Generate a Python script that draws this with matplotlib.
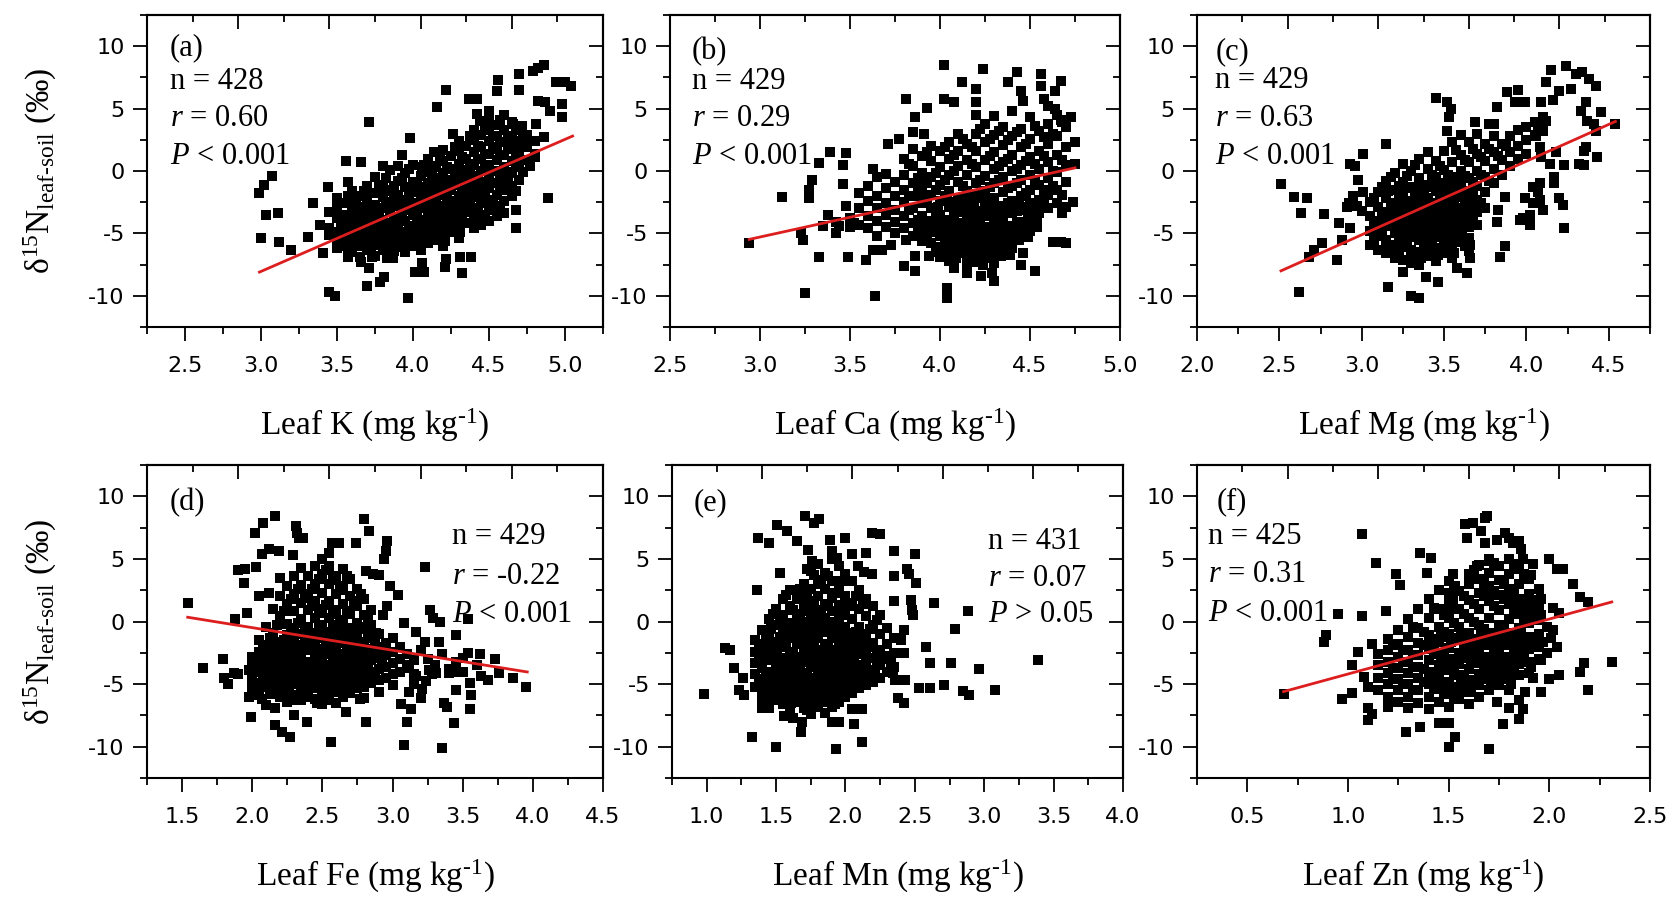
import matplotlib
matplotlib.use("Agg")
import matplotlib.pyplot as plt
from matplotlib.ticker import MultipleLocator, FixedLocator, NullFormatter

plt.rcParams.update({
    "font.family": ["Liberation Serif", "DejaVu Serif"],
    "mathtext.fontset": "custom",
    "mathtext.rm": "Liberation Serif",
    "mathtext.it": "Liberation Serif:italic",
    "mathtext.bf": "Liberation Serif:bold",
    "axes.unicode_minus": False,
})

# ---------------- data ----------------
# (a) Leaf K
K_pts = [(2.99,-1.8),(3.02,-1.15),(3.07,-0.4),(3.03,-3.55),(3.11,-3.36),(3.0,-5.4),(3.12,-5.67),(3.2,-6.33),
         (3.44,-1.3),(3.34,-2.6),(3.31,-5.3),(3.39,-4.35),(3.41,-6.6),(3.45,-9.73),(3.49,-10.0),(3.56,0.84),
         (3.66,0.7),(3.71,3.9),(3.57,-0.9),(3.51,-2.6),(3.7,-9.25),(3.78,-8.86),(3.81,-8.46),(3.97,-10.2),
         (3.98,2.65),(3.93,1.3),(3.8,0.44),(3.9,0.44),(4.22,6.5),(4.16,5.1),(4.14,1.5),(4.06,0.3),(4.13,0.3),
         (4.26,3.0),(4.37,5.75),(4.42,5.8),(4.56,7.3),(4.55,6.4),(4.7,7.75),(4.7,6.5),(4.79,8.0),(4.82,8.27),
         (4.86,8.5),(4.94,7.15),(5.0,7.1),(5.04,6.8),(4.98,5.35),(4.98,4.35),(4.82,5.6),(4.87,5.5),(4.9,4.8),
         (4.81,3.75),(4.86,2.7),(4.8,1.1),(4.77,0.44),(4.89,-2.2),(4.68,-3.15),(4.68,-4.6),(4.31,-6.87),
         (4.32,-8.2),(4.38,-6.87),(4.21,-7.7),(4.22,-7.05),(4.06,-7.4),(4.07,-8.06),(4.01,-8.06),(3.87,-7.0),
         (3.83,-7.0),(3.66,-7.26),(3.71,-7.8),(3.73,-6.87),(3.57,-6.87),(3.53,-5.93),(4.42,4.55),(4.44,4.0),
         (4.5,4.8),(4.48,3.5),(4.57,4.0),(4.66,3.75),(4.72,3.6),(4.63,2.15),(4.7,1.6),(4.72,2.15),(4.75,2.7)]
K_cloud = {
    3.45: [-3.3, -4.6, -5.1],
    3.50: [-2.2, -3.0, -3.8, -4.9, -5.6, -6.2],
    3.55: [-2.6, -3.5, -4.4, -5.2, -6.0],
    3.60: [-1.6, -2.4, -3.1, -4.0, -4.8, -5.5, -6.5],
    3.65: [-2.0, -2.9, -3.7, -4.5, -5.2, -6.0, -6.9],
    3.70: [-1.2, -2.4, -3.3, -4.1, -4.9, -5.6, -6.3],
    3.75: [-0.5, -1.8, -2.7, -3.5, -4.3, -5.1, -5.9, -6.8],
    3.80: [-1.1, -2.1, -3.0, -3.9, -4.7, -5.5, -6.3],
    3.85: [0.1, -1.5, -2.5, -3.3, -4.2, -5.0, -5.8, -6.6],
    3.90: [-0.8, -1.9, -2.8, -3.7, -4.5, -5.3, -6.1],
    3.95: [-0.2, -1.3, -2.3, -3.1, -4.0, -4.9, -5.7, -6.5],
    4.00: [0.5, -0.9, -1.7, -2.6, -3.5, -4.4, -5.2, -6.0],
    4.05: [-0.4, -1.3, -2.1, -3.0, -3.9, -4.7, -5.5, -6.3],
    4.10: [1.0, -0.1, -1.0, -1.8, -2.6, -3.4, -4.2, -5.0, -5.8],
    4.15: [0.4, -0.6, -1.4, -2.3, -3.1, -3.9, -4.7, -5.5],
    4.20: [1.7, 0.8, -0.2, -1.0, -1.9, -2.8, -3.6, -4.4, -5.2, -6.0],
    4.25: [1.2, 0.2, -0.7, -1.5, -2.4, -3.2, -4.1, -4.9],
    4.30: [2.4, 1.6, 0.6, -0.3, -1.1, -2.0, -2.9, -3.7, -4.5, -5.4],
    4.35: [2.0, 1.0, 0.1, -0.8, -1.6, -2.5, -3.3, -4.2],
    4.40: [3.3, 2.5, 1.5, 0.5, -0.4, -1.2, -2.1, -3.0, -3.8, -4.6],
    4.45: [2.9, 1.9, 1.0, 0.0, -0.9, -1.8, -2.6, -3.5, -4.3],
    4.50: [4.0, 3.3, 2.4, 1.4, 0.5, -0.5, -1.4, -2.3, -3.1, -4.0],
    4.55: [3.7, 2.8, 1.8, 0.9, 0.0, -1.0, -1.9, -2.8, -3.6],
    4.60: [4.5, 3.3, 2.3, 1.3, 0.3, -0.6, -1.5, -2.4, -3.4],
    4.65: [3.9, 2.8, 1.8, 0.8, -0.2, -1.2, -2.0],
    4.70: [3.4, 2.4, 1.3, 0.4, -0.7],
    4.75: [2.9, 1.9, 0.9],
    4.80: [2.4, 1.4],
}
K_mid = {
    3.525: [-2.6, -4.3, -5.2],
    3.575: [-2.0, -3.9, -4.8, -6.3],
    3.625: [-2.7, -3.5, -5.1, -5.9],
    3.675: [-1.6, -3.3, -4.1, -5.6],
    3.725: [-1.8, -2.8, -4.5, -5.3, -6.0],
    3.775: [-1.2, -3.1, -3.9, -5.5],
    3.825: [-0.6, -2.6, -4.3, -5.1],
    3.875: [-1.2, -2.1, -3.8, -4.6, -6.4],
    3.925: [-0.6, -2.5, -3.4, -5.1],
    3.975: [0.2, -1.8, -2.7, -4.5, -5.3],
    4.025: [-1.1, -3.1, -3.9, -5.7],
    4.075: [0.5, -1.4, -2.3, -4.1, -5.0],
    4.125: [-0.4, -2.2, -3.0, -4.6],
    4.175: [1.1, -0.9, -1.8, -3.5, -4.3],
    4.225: [0.3, -1.5, -2.3, -4.0, -4.8],
    4.275: [1.9, -0.2, -1.1, -2.8, -3.6],
    4.325: [1.1, 0.1, -1.6, -2.4, -4.1],
    4.375: [2.8, 0.6, -0.3, -2.0, -2.9],
    4.425: [2.0, 1.0, -0.8, -1.7, -3.4],
    4.475: [3.6, 1.4, 0.5, -1.3, -2.1, -3.8],
    4.525: [2.8, 1.9, 0.0, -1.0, -2.7],
    4.575: [4.1, 2.3, 1.3, -0.5, -1.4, -3.1],
    4.625: [2.8, 1.8, -0.1, -1.0],
    4.675: [3.3, 1.3, 0.3, -1.6],
    4.725: [2.9, 0.9, -0.1],
}
K_core = {
    3.61: [-2.0, -4.4],
    3.71: [-2.8, -5.2],
    3.81: [-1.6, -4.3, -5.9],
    3.91: [-2.3, -4.9],
    4.01: [-1.3, -3.0, -5.6],
    4.11: [-2.2, -4.6],
    4.21: [-1.4, -3.2, -5.6],
    4.31: [-0.7, -2.5, -4.9],
    4.41: [-1.6, -3.4],
    4.51: [0.0, -2.7],
}
K_fit_x = [2.99, 5.05]
K_fit_y = [-8.1, 2.8]
K_stats = ["n = 428", "$r$ = 0.60", "$P$ < 0.001"]

# (b) Leaf Ca
Ca_pts = [(2.94,-5.8),(3.12,-2.05),(3.25,-9.8),(3.23,-4.95),(3.24,-5.55),(3.27,-1.55),(3.27,-2.2),(3.29,-0.7),
          (3.33,0.65),(3.39,1.5),(3.48,1.45),(3.46,0.5),(3.46,-1.05),(3.33,-6.9),(3.49,-6.9),(3.59,-7.1),
          (3.64,-10.05),(3.42,-4.95),(3.44,-4.4),(3.63,0.2),(3.7,-0.25),(3.71,2.2),(3.77,2.55),(3.81,5.8),
          (3.86,4.3),(3.85,3.1),(3.93,5.05),(3.91,3.0),(4.02,8.5),(4.02,5.75),(4.08,5.55),(4.12,7.1),(4.2,6.55),
          (4.24,8.2),(4.2,5.5),(4.38,7.1),(4.43,7.95),(4.45,6.4),(4.46,5.6),(4.56,7.75),(4.56,6.8),(4.67,7.2),
          (4.64,6.4),(4.58,5.75),(4.73,4.35),(4.64,5.0),(4.67,4.1),(4.74,-2.45),(4.7,-2.85),(4.68,-3.4),
          (4.67,-5.7),(4.7,-5.75),(4.63,-5.7),(4.53,-8.05),(4.45,-7.5),(4.46,-6.6),(4.54,-4.45),(4.49,-3.95),
          (4.3,-8.85),(4.29,-8.15),(4.23,-8.45),(4.15,-8.2),(4.08,-7.8),(4.04,-9.4),(4.04,-10.2),(3.86,-8.05),
          (3.8,-7.65),(3.81,-5.55),(3.86,-6.85),(3.94,-6.8),(3.73,-5.95),(3.68,-6.3),(3.63,-6.3),(3.52,-4.2),
          (3.5,-4.5),(3.38,-3.5),(3.42,-4.1),(3.5,-3.8),(3.48,-2.8),(3.35,-4.4)]
Ca_cloud = {
    3.55: [-1.8, -3.0, -4.3],
    3.60: [-1.2, -2.4, -3.6, -4.6],
    3.65: [-0.5, -2.0, -3.0, -4.0, -5.2],
    3.70: [-1.4, -2.6, -3.5, -4.5],
    3.75: [-0.9, -2.0, -3.1, -4.1, -5.0],
    3.80: [1.0, -0.3, -1.5, -2.5, -3.6, -4.6],
    3.85: [1.8, 0.4, -1.0, -2.0, -3.0, -4.2, -5.2],
    3.90: [1.2, -0.2, -1.4, -2.6, -3.6, -4.6, -5.6],
    3.95: [2.0, 0.8, -0.5, -1.9, -3.0, -4.0, -4.9, -5.8],
    4.00: [1.6, 0.3, -1.1, -2.4, -3.5, -4.4, -5.2, -6.1, -6.9],
    4.05: [2.3, 1.0, -0.3, -1.6, -2.9, -3.9, -4.7, -5.5, -6.4, -7.2],
    4.10: [3.0, 1.6, 0.4, -0.9, -2.2, -3.3, -4.2, -5.0, -5.8, -6.6],
    4.15: [2.2, 0.9, -0.3, -1.6, -2.7, -3.7, -4.5, -5.3, -6.1, -6.9, -7.4],
    4.20: [4.5, 3.0, 1.6, 0.3, -1.0, -2.2, -3.2, -4.1, -4.9, -5.7, -6.5, -7.3],
    4.25: [3.8, 2.3, 0.9, -0.4, -1.6, -2.7, -3.6, -4.5, -5.3, -6.1, -6.9],
    4.30: [4.4, 2.9, 1.5, 0.2, -1.0, -2.2, -3.2, -4.1, -5.0, -5.8, -6.6, -7.4],
    4.35: [3.5, 2.1, 0.7, -0.5, -1.7, -2.8, -3.8, -4.7, -5.6, -6.4],
    4.40: [4.8, 2.8, 1.3, 0.0, -1.2, -2.4, -3.4, -4.4, -5.4, -6.2],
    4.45: [3.4, 1.9, 0.5, -0.7, -2.0, -3.1, -4.1, -5.2],
    4.50: [4.3, 2.6, 1.1, -0.3, -1.5, -2.6, -3.7, -4.8],
    4.55: [3.2, 1.6, 0.2, -1.1, -2.3, -3.4],
    4.60: [5.2, 3.8, 2.2, 0.7, -0.6, -1.9, -3.0],
    4.65: [4.5, 2.8, 1.3, -0.1, -1.5, -2.6],
    4.70: [3.5, 1.9, 0.5, -0.9],
    4.75: [2.3, 0.6],
}
Ca_mid = {
    3.825: [0.6, -2.0, -3.1],
    3.875: [-0.6, -1.8, -3.9, -4.9],
    3.925: [1.5, -1.0, -2.2, -4.3, -5.2],
    3.975: [-0.2, -1.5, -3.7, -4.6, -6.4],
    4.025: [1.9, -0.7, -2.0, -4.1, -5.0, -5.8, -6.7],
    4.075: [1.3, 0.0, -2.5, -3.6, -4.5, -6.1, -6.9],
    4.125: [2.6, -1.2, -2.4, -4.4, -5.2, -6.0],
    4.175: [1.9, 0.6, -1.9, -3.0, -3.9, -5.5, -6.3, -7.1],
    4.225: [3.4, -0.7, -1.9, -3.9, -4.7, -5.5, -7.0],
    4.275: [2.6, 1.2, -1.3, -2.4, -3.4, -5.1, -5.9, -6.7],
    4.325: [3.2, 0.4, -0.7, -3.0, -3.9, -4.8, -6.4],
    4.375: [2.5, 1.0, -1.4, -2.6, -4.5, -5.5, -6.3],
    4.425: [3.1, 0.2, -1.0, -3.2, -4.2, -5.1],
    4.475: [2.2, 0.8, -1.8, -2.9, -4.9],
    4.525: [3.6, 0.6, -0.7, -3.0, -4.1],
    4.575: [2.7, 1.2, -1.5, -2.7],
    4.625: [3.0, 0.0, -1.2],
    4.675: [3.9, 0.9, -1.9],
}
Ca_core = {
    3.99: [-2.9, -4.8, -6.5],
    4.04: [-2.3, -4.3, -6.0, -6.8],
    4.09: [-3.0, -4.6, -5.4, -7.0],
    4.14: [-2.1, -3.2, -5.6, -6.4],
    4.19: [-2.7, -4.5, -6.9],
    4.24: [-3.2, -4.9, -5.8, -6.6, -7.5],
    4.29: [-2.8, -4.5, -6.2, -7.0],
    4.34: [-3.4, -5.2, -6.0, -6.8],
    4.39: [-3.0, -4.9, -5.8, -6.7],
    4.44: [-2.6, -4.6, -5.5],
    4.49: [-3.3, -4.3, -5.3],
    4.54: [-2.9, -3.9],
}
Ca_fit_x = [2.94, 4.75]
Ca_fit_y = [-5.48, 0.25]
Ca_stats = ["n = 429", "$r$ = 0.29", "$P$ < 0.001"]

# (c) Leaf Mg
Mg_pts = [(2.51,-1.08),(2.59,-2.1),(2.67,-2.2),(2.63,-3.35),(2.62,-9.73),(2.77,-3.45),(2.86,-4.2),(2.93,-4.6),
          (2.85,-7.1),(2.88,-5.5),(2.76,-5.8),(2.71,-6.3),(2.68,-6.9),(2.93,0.57),(2.96,0.4),(3.01,1.4),
          (2.98,-0.7),(3.01,-1.7),(3.15,2.2),(2.92,-2.6),(2.91,-2.9),(3.16,-9.3),(3.3,-10.0),(3.35,-10.2),
          (3.25,-8.06),(3.39,-8.46),(3.46,-8.86),(3.64,-8.2),(3.58,-7.8),(3.66,-7.0),(3.45,5.83),(3.52,5.56),
          (3.54,4.95),(3.53,4.3),(3.52,3.2),(3.69,3.9),(3.77,3.8),(3.8,3.8),(3.82,5.1),(3.88,6.35),(3.95,6.5),
          (3.93,5.5),(3.99,5.56),(4.09,5.5),(4.12,7.1),(4.15,8.1),(4.24,8.4),(4.3,7.75),(4.34,7.9),(4.38,7.35),
          (4.42,6.8),(4.27,6.6),(4.2,6.4),(4.16,5.7),(4.36,5.5),(4.45,4.75),(4.33,4.8),(4.54,3.75),(4.41,3.75),
          (4.37,4.0),(4.42,3.2),(4.36,1.9),(4.35,1.6),(4.43,1.1),(4.32,0.6),(4.35,0.45),(4.23,0.45),(4.14,0.56),
          (4.17,-0.5),(4.17,-1.0),(4.2,-2.2),(4.22,-2.75),(4.23,-4.6),(4.08,-1.0),(4.04,-1.3),(4.07,-1.7),
          (4.08,-2.35),(4.04,-2.6),(4.1,-3.15),(4.02,-3.55),(4.02,-4.35),(3.99,-2.2),(3.98,-3.8),(3.96,-3.9),
          (3.84,-6.87),(3.87,-6.0),(3.82,-4.1),(3.83,-3.15),(3.87,-2.1),(4.08,1.9),(4.09,1.1),(4.18,1.5),
          (4.06,2.8),(4.07,3.3),(4.12,4.0),(4.1,3.75),(2.97,-2.8),(3.0,-3.2),(2.95,-2.0)]
Mg_cloud = {
    3.05: [-2.5, -3.6, -4.8, -5.9],
    3.10: [-1.7, -2.9, -4.0, -5.2, -6.3],
    3.15: [-0.8, -2.2, -3.3, -4.4, -5.5, -6.6],
    3.20: [-0.2, -1.5, -2.6, -3.7, -4.8, -5.9, -7.0],
    3.25: [0.6, -0.9, -2.0, -3.1, -4.1, -5.1, -6.1, -7.1],
    3.30: [0.0, -1.3, -2.4, -3.4, -4.4, -5.3, -6.3, -7.4],
    3.35: [1.0, -0.6, -1.8, -2.8, -3.7, -4.6, -5.5, -6.5, -7.5],
    3.40: [1.5, 0.2, -1.1, -2.2, -3.1, -4.0, -4.9, -5.8, -6.8],
    3.45: [0.8, -0.5, -1.6, -2.6, -3.5, -4.4, -5.3, -6.2, -7.2],
    3.50: [1.6, 0.1, -1.0, -2.0, -2.9, -3.8, -4.7, -5.6, -6.6],
    3.55: [2.3, 0.7, -0.5, -1.5, -2.5, -3.4, -4.3, -5.2, -6.1, -7.0],
    3.60: [2.9, 1.3, 0.0, -1.1, -2.1, -3.0, -3.9, -4.8, -5.7],
    3.65: [2.3, 0.7, -0.6, -1.7, -2.7, -3.6, -4.5, -5.4, -6.4],
    3.70: [3.0, 1.4, 0.0, -1.2, -2.3, -3.3, -4.3],
    3.75: [2.2, 0.8, -0.5, -1.7, -3.0],
    3.80: [2.8, 1.5, 0.2, -1.0],
    3.85: [2.2, 0.9, -0.3],
    3.90: [2.8, 1.5, 0.4],
    3.95: [3.3, 2.0, 1.0],
    4.00: [3.5, 2.5, 1.4],
    4.05: [3.9, 2.9],
    4.10: [4.3, 3.2],
}
Mg_mid = {
    3.075: [-2.2, -4.4, -5.5],
    3.125: [-1.3, -3.6, -4.7],
    3.175: [-0.5, -2.9, -4.0, -6.2],
    3.225: [-1.2, -2.3, -4.4, -5.4, -6.5],
    3.275: [-0.4, -2.7, -3.7, -4.6, -5.6],
    3.325: [0.5, -2.1, -3.1, -4.0, -4.9, -6.9],
    3.375: [-1.4, -2.5, -3.4, -4.3, -5.2, -6.2],
    3.425: [-0.3, -1.3, -3.3, -4.2, -5.1, -6.0],
    3.475: [0.4, -1.8, -2.8, -3.7, -4.6, -6.4],
    3.525: [-0.3, -1.3, -3.2, -4.1, -5.0, -5.9],
    3.575: [1.7, -0.8, -1.8, -3.6, -4.5, -5.4],
    3.625: [0.9, -0.4, -2.4, -3.3, -4.2, -6.0],
    3.675: [1.8, -0.9, -2.0, -3.0, -4.0],
    3.725: [1.1, -0.3, -2.6],
    3.775: [1.8, -0.8],
    3.825: [1.2],
    3.875: [2.0],
}
Mg_core = {
    3.16: [-1.6, -3.7, -5.9],
    3.21: [-2.9, -5.0, -6.5],
    3.26: [-1.4, -3.6, -5.7],
    3.31: [-2.9, -4.8, -6.8],
    3.36: [-1.2, -3.3, -5.0, -7.0],
    3.41: [-2.6, -4.5, -6.4],
    3.46: [-1.2, -3.0, -4.9, -6.7],
    3.51: [-2.4, -4.3, -6.1],
    3.56: [-1.0, -2.9, -4.8, -6.6],
    3.61: [-1.6, -3.4, -5.3],
    3.66: [-2.2, -4.1, -5.9],
}
Mg_fit_x = [2.51, 4.54]
Mg_fit_y = [-8.0, 3.97]
Mg_stats = ["n = 429", "$r$ = 0.63", "$P$ < 0.001"]

# (d) Leaf Fe
Fe_pts = [(1.54,1.5),(1.65,-3.7),(1.79,-3.0),(1.8,-4.5),(1.83,-5.0),(1.87,-4.1),(1.9,-4.2),(1.98,-3.9),
          (1.88,0.2),(1.96,0.65),(1.9,4.1),(1.95,4.2),(1.94,3.1),(2.03,4.35),(2.02,7.1),(2.08,7.9),(2.16,8.4),
          (2.07,5.4),(2.12,5.8),(2.19,5.6),(2.29,5.35),(2.31,7.6),(2.32,7.1),(2.33,6.7),(2.36,6.7),(2.05,2.0),
          (2.12,2.25),(1.98,-6.0),(2.02,-5.9),(2.07,-6.2),(2.1,-6.7),(1.99,-7.6),(2.16,-6.9),(2.16,-8.3),
          (2.21,-8.8),(2.27,-9.2),(2.3,-7.5),(2.39,-8.0),(2.56,-9.65),(2.57,6.25),(2.62,6.3),(2.74,6.3),
          (2.8,8.15),(2.83,7.2),(2.96,6.45),(2.95,5.65),(2.94,5.0),(2.81,4.0),(2.86,3.8),(2.9,3.7),(2.98,2.8),
          (3.04,2.15),(2.96,1.2),(2.93,0.5),(3.23,4.35),(2.88,-0.9),(3.08,-0.15),(3.17,-0.8),(3.27,0.9),
          (3.29,0.3),(3.34,0.0),(3.23,-1.6),(3.33,-1.6),(3.45,-1.05),(3.54,0.2),(3.54,-2.5),(3.73,-3.0),
          (3.76,-4.1),(3.86,-4.5),(3.95,-5.25),(3.68,-4.65),(3.63,-4.35),(3.55,-4.9),(3.45,-5.5),(3.56,-5.85),
          (3.55,-6.95),(3.44,-8.1),(3.37,-6.5),(3.39,-6.85),(3.35,-10.1),(3.08,-9.9),(3.1,-8.0),(3.13,-7.0),
          (3.06,-6.6),(2.81,-8.0),(2.77,-6.2),(2.67,-7.2),(3.26,-3.9),(3.31,-4.15),(3.4,-4.15),(3.45,-4.0),
          (3.24,-4.75),(3.21,-5.4),(3.17,-4.35),(3.12,-3.7),(3.2,-2.3),(3.25,-3.0),(3.3,-3.5),(3.35,-2.6),
          (3.4,-3.8),(3.28,-4.2),(3.45,-3.2),(3.5,-4.0),(3.5,-2.9),(3.6,-3.5),(3.62,-2.6),(3.12,-5.6),
          (3.2,-6.1),(3.15,-5.0)]
Fe_cloud = {
    2.00: [-2.8, -3.6, -4.5, -5.3],
    2.05: [-1.5, -2.4, -3.2, -4.0, -4.9, -5.7],
    2.10: [-0.4, -1.9, -2.8, -3.6, -4.4, -5.2],
    2.15: [1.0, -0.9, -2.2, -3.1, -3.9, -4.7, -5.5],
    2.20: [3.5, 2.0, 0.4, -1.6, -2.6, -3.4, -4.3, -5.1, -6.0],
    2.25: [2.8, 1.4, -0.2, -1.1, -2.0, -2.9, -3.8, -4.6, -5.5, -6.4],
    2.30: [3.6, 2.2, 0.8, -0.5, -1.5, -2.4, -3.3, -4.2, -5.0, -5.9],
    2.35: [4.3, 2.9, 1.5, 0.2, -1.0, -1.9, -2.8, -3.7, -4.5, -5.4, -6.3],
    2.40: [3.6, 2.2, 0.9, -0.4, -1.4, -2.3, -3.2, -4.0, -4.9, -5.8],
    2.45: [4.4, 3.0, 1.6, 0.3, -0.9, -1.8, -2.7, -3.6, -4.4, -5.3, -6.2],
    2.50: [5.0, 3.8, 2.3, 1.0, -0.3, -1.3, -2.2, -3.1, -4.0, -4.8, -5.7, -6.6],
    2.55: [5.5, 4.4, 3.0, 1.6, 0.3, -0.8, -1.7, -2.6, -3.5, -4.3, -5.2, -6.1],
    2.60: [3.6, 2.2, 0.9, -0.3, -1.2, -2.1, -3.0, -3.9, -4.7, -5.6, -6.5],
    2.65: [4.2, 2.8, 1.4, 0.1, -0.8, -1.7, -2.6, -3.4, -4.3, -5.1, -6.0],
    2.70: [3.4, 2.0, 0.6, -0.5, -1.4, -2.3, -3.1, -4.0, -4.8, -5.7],
    2.75: [2.6, 1.2, -0.1, -1.0, -1.9, -2.8, -3.6, -4.5, -5.3],
    2.80: [1.8, 0.5, -0.6, -1.6, -2.5, -3.4, -4.3, -5.2, -6.1],
    2.85: [0.9, -0.3, -1.3, -2.2, -3.1, -4.0, -4.9],
    2.90: [-1.0, -2.0, -2.9, -3.8, -4.7, -5.6],
    2.95: [-1.7, -2.7, -3.6, -4.5],
    3.00: [-1.3, -2.4, -3.3, -4.2, -5.1],
    3.05: [-2.0, -3.0, -4.0],
    3.10: [-2.6, -3.5],
    3.15: [-3.1, -4.2],
}
Fe_mid = {
    2.075: [-2.0, -3.7, -4.6],
    2.125: [-1.3, -3.3, -4.1, -5.8],
    2.175: [-0.3, -2.8, -3.6, -5.3],
    2.225: [0.8, -1.5, -2.4, -4.1, -4.9],
    2.275: [1.8, -0.8, -1.7, -3.5, -4.4, -6.1],
    2.325: [2.6, -0.1, -2.1, -3.0, -4.7],
    2.375: [1.9, -0.6, -1.6, -3.4, -4.3, -6.0],
    2.425: [2.6, 1.2, -1.1, -2.0, -3.8, -4.6],
    2.475: [3.4, 0.7, -0.5, -2.4, -3.3, -5.1],
    2.525: [4.1, 1.3, -1.0, -1.9, -3.7, -4.6, -6.3],
    2.575: [3.3, 0.6, -0.5, -2.3, -3.2, -5.0],
    2.625: [2.5, -0.1, -1.0, -2.8, -3.6, -5.4],
    2.675: [3.6, 0.8, -1.2, -2.1, -3.8, -4.6],
    2.725: [1.6, -0.8, -1.7, -3.4, -4.3],
    2.775: [2.2, -0.4, -2.2, -3.1, -4.8],
    2.825: [0.1, -1.0, -2.8, -3.7],
    2.875: [-1.6, -2.5, -4.3],
    2.925: [-2.4, -3.3],
}
Fe_core = {
    2.11: [-2.3, -4.8],
    2.16: [-1.6, -3.5, -5.1],
    2.21: [-2.1, -3.8, -5.6],
    2.26: [-1.6, -3.3, -5.1],
    2.31: [-1.0, -2.8, -4.6, -6.3],
    2.36: [-2.3, -4.1, -5.8],
    2.41: [-1.8, -3.6, -5.3],
    2.46: [-1.2, -3.1, -4.8, -6.5],
    2.51: [-2.6, -4.4, -6.1],
    2.56: [-2.1, -3.9, -5.6],
    2.61: [-1.5, -3.4, -5.1],
    2.66: [-2.9, -4.7],
    2.71: [-1.8, -3.6, -5.3],
    2.76: [-2.3, -4.1],
    2.81: [-2.9, -4.8],
}
Fe_fit_x = [1.54, 3.96]
Fe_fit_y = [0.34, -4.03]
Fe_stats = ["n = 429", "$r$ = -0.22", "$P$ < 0.001"]

# (e) Leaf Mn
Mn_pts = [(0.98,-5.8),(1.13,-2.1),(1.17,-2.3),(1.2,-3.7),(1.26,-4.5),(1.23,-5.5),(1.27,-5.85),(1.33,-9.25),
          (1.5,-10.0),(1.36,2.5),(1.37,6.7),(1.45,6.3),(1.51,7.7),(1.58,7.2),(1.65,6.45),(1.71,8.4),(1.77,7.9),
          (1.81,8.15),(1.53,3.9),(1.73,5.7),(1.76,4.8),(1.72,4.2),(1.89,6.5),(2.0,6.7),(1.9,5.6),(1.94,5.1),
          (2.05,5.4),(2.15,5.45),(2.19,7.1),(2.25,7.0),(2.09,4.4),(2.19,3.8),(2.13,3.95),(2.35,5.65),(2.5,5.4),
          (2.35,3.65),(2.44,4.2),(2.46,3.8),(2.51,3.1),(2.64,1.5),(2.47,1.75),(2.48,0.9),(2.49,0.5),(2.35,1.6),
          (2.88,0.85),(2.79,-0.6),(2.58,-2.0),(2.61,-3.3),(2.76,-3.3),(2.96,-3.8),(3.39,-3.05),(3.08,-5.45),
          (2.85,-5.55),(2.89,-5.9),(2.71,-5.05),(2.61,-5.3),(2.53,-5.3),(2.43,-4.65),(2.38,-6.1),(2.42,-6.5),
          (2.34,-4.1),(2.36,-4.65),(2.21,-3.9),(2.23,-3.25),(2.33,-3.25),(2.3,-2.75),(2.42,-2.5),(2.4,-1.5),
          (2.42,-0.7),(2.12,-9.65),(1.93,-10.2),(2.06,-8.2),(1.9,-8.05),(1.95,-8.0),(1.68,-8.8),(1.69,-8.05),
          (1.56,-7.55),(1.62,-7.7),(1.4,-6.9),(1.45,-6.9),(2.12,-7.0),(2.05,-7.0)]
Mn_cloud = {
    1.35: [-1.5, -2.4, -3.3, -4.2, -5.2],
    1.40: [-0.7, -1.8, -2.8, -3.7, -4.6, -5.5, -6.3],
    1.45: [0.2, -1.2, -2.2, -3.1, -4.0, -5.0, -5.9],
    1.50: [1.0, -0.3, -1.6, -2.6, -3.5, -4.4, -5.3, -6.3],
    1.55: [1.8, 0.5, -0.8, -2.0, -2.9, -3.8, -4.7, -5.6, -6.6],
    1.60: [2.5, 1.2, -0.1, -1.3, -2.4, -3.3, -4.2, -5.1, -6.0, -7.0],
    1.65: [1.8, 0.6, -0.6, -1.8, -2.8, -3.7, -4.6, -5.5, -6.4],
    1.70: [3.0, 2.2, 1.2, 0.0, -1.2, -2.3, -3.2, -4.1, -5.0, -5.9, -6.9],
    1.75: [4.0, 2.6, 1.6, 0.5, -0.7, -1.8, -2.7, -3.6, -4.5, -5.4, -6.3, -7.4],
    1.80: [4.6, 3.3, 2.0, 0.9, -0.2, -1.3, -2.3, -3.2, -4.1, -5.0, -5.9, -6.8],
    1.85: [3.9, 2.6, 1.4, 0.3, -0.8, -1.8, -2.7, -3.7, -4.6, -5.5, -6.4, -7.3],
    1.90: [5.0, 3.2, 1.9, 0.8, -0.3, -1.3, -2.3, -3.2, -4.1, -5.0, -5.9, -6.8],
    1.95: [4.4, 2.6, 1.3, 0.2, -0.8, -1.8, -2.8, -3.7, -4.6, -5.5, -6.4],
    2.00: [3.8, 2.0, 0.7, -0.4, -1.4, -2.4, -3.3, -4.2, -5.1, -6.0],
    2.05: [3.2, 1.5, 0.2, -1.0, -2.0, -2.9, -3.8, -4.8, -5.7],
    2.10: [2.5, 1.0, -0.4, -1.6, -2.6, -3.5, -4.4, -5.3],
    2.15: [1.8, 0.4, -1.0, -2.2, -3.2, -4.2, -5.1],
    2.20: [1.2, -0.3, -1.7, -2.9, -3.9, -4.8],
    2.25: [0.5, -1.0, -2.3, -3.5, -4.5],
    2.30: [-0.5, -1.8, -3.0, -4.0],
    2.35: [-1.3, -2.5, -3.6],
}
Mn_mid = {
    1.375: [-2.0, -2.9, -4.8],
    1.425: [-1.4, -2.4, -4.3, -5.2],
    1.475: [0.6, -1.9, -2.8, -4.7, -5.6],
    1.525: [0.1, -1.2, -3.2, -4.1, -6.0],
    1.575: [2.1, -0.5, -1.7, -3.6, -4.5, -5.4],
    1.625: [0.9, -0.4, -2.6, -3.5, -5.3, -6.2],
    1.675: [2.6, 0.2, -1.0, -3.0, -3.9, -5.7],
    1.725: [1.9, 0.8, -1.5, -2.5, -4.3, -5.2, -7.1],
    1.775: [3.7, 1.2, 0.1, -2.1, -3.0, -4.8, -5.7],
    1.825: [3.0, 0.6, -0.5, -2.5, -3.4, -5.2, -6.1],
    1.875: [3.6, 1.2, 0.0, -2.0, -3.0, -4.8, -5.7],
    1.925: [2.3, -0.0, -1.0, -3.0, -3.9, -5.7, -6.6],
    1.975: [3.2, 0.5, -0.6, -2.6, -3.5, -5.3],
    2.025: [1.2, -1.2, -2.2, -4.0, -5.0],
    2.075: [2.0, -0.8, -1.9, -3.8, -4.6],
    2.125: [1.4, -1.3, -2.4, -4.3],
    2.175: [-0.6, -2.0, -4.0],
    2.225: [0.1, -2.6],
}
Mn_core = {
    1.46: [-0.6, -2.6, -4.4, -6.2],
    1.51: [-2.1, -3.9, -5.8],
    1.56: [-1.3, -3.3, -5.1],
    1.61: [-0.7, -2.8, -4.6, -6.5],
    1.66: [-1.2, -3.2, -5.0],
    1.71: [-0.6, -2.7, -4.5, -6.4],
    1.76: [-1.3, -3.1, -4.9, -6.8],
    1.81: [-0.7, -2.8, -4.6, -6.3],
    1.86: [-0.3, -2.2, -4.1, -5.9],
    1.91: [-0.8, -2.8, -4.6, -6.3],
    1.96: [-1.3, -3.2, -5.0],
    2.01: [-0.9, -2.8, -4.6],
    2.06: [-1.5, -3.3, -5.2],
    2.11: [-2.1, -3.9],
}
Mn_fit_x = []
Mn_fit_y = []
Mn_stats = ["n = 431", "$r$ = 0.07", "$P$ > 0.05"]

# (f) Leaf Zn
Zn_pts = [(0.68,-5.8),(0.88,-1.6),(0.89,-1.1),(0.95,0.63),(1.07,7.0),(1.07,0.42),(1.14,4.7),(1.19,0.82),
          (1.24,3.8),(1.26,2.95),(1.36,5.45),(1.41,5.1),(1.39,3.85),(0.97,-6.2),(1.02,-5.75),(1.1,-6.9),
          (1.12,-7.4),(1.1,-7.9),(1.29,-8.85),(1.36,-8.4),(1.45,-8.1),(1.5,-8.1),(1.53,-9.25),(1.5,-10.0),
          (1.7,-10.2),(1.77,-8.15),(1.85,-7.75),(1.87,-7.0),(1.8,-6.9),(1.74,-6.45),(1.96,-5.65),(2.0,-4.6),
          (1.92,-4.5),(2.05,-4.25),(2.15,-4.05),(2.17,-3.3),(2.31,-3.2),(2.19,-5.5),(1.88,-5.65),(1.85,-6.3),
          (2.0,5.0),(2.04,4.2),(2.07,4.2),(2.12,3.0),(2.15,1.95),(2.19,1.55),(2.02,1.1),(2.05,0.7),(1.96,1.8),
          (1.96,0.5),(1.99,-0.4),(2.02,-0.7),(2.01,-1.3),(1.97,-1.6),(1.99,-2.5),(1.96,-3.05),(2.04,-2.0),
          (1.58,7.75),(1.62,7.9),(1.68,8.3),(1.69,8.4),(1.59,6.65),(1.66,7.2),(1.68,6.3),(1.74,6.5),(1.78,7.1),
          (1.8,6.7),(1.82,6.3),(1.85,6.4),(1.86,5.8),(1.92,4.6),(1.91,3.7),(1.87,5.0),(1.83,4.2),(1.7,4.8),
          (1.64,4.4),(1.52,3.8),(1.53,2.8),(1.5,2.3),(1.52,1.6),(1.5,1.0),(1.02,-3.5),(1.05,-2.4),(1.08,-4.4),
          (1.1,-5.2),(1.12,-1.8)]
Zn_cloud = {
    1.15: [-2.6, -3.5, -4.5, -5.5],
    1.20: [-1.4, -2.3, -3.2, -4.1, -5.0, -6.0, -6.8],
    1.25: [-0.7, -1.8, -2.8, -3.7, -4.6, -5.5, -6.4],
    1.30: [0.2, -1.2, -2.3, -3.2, -4.1, -5.0, -6.0, -6.9],
    1.35: [1.0, -0.5, -1.7, -2.7, -3.6, -4.5, -5.5, -6.5],
    1.40: [1.8, 0.3, -1.1, -2.2, -3.1, -4.0, -5.0, -6.0, -7.0],
    1.45: [2.5, 1.0, -0.4, -1.6, -2.6, -3.5, -4.4, -5.4, -6.4],
    1.50: [3.2, 1.7, 0.3, -1.0, -2.1, -3.0, -3.9, -4.8, -5.8, -6.8],
    1.55: [2.4, 1.0, -0.4, -1.5, -2.5, -3.4, -4.3, -5.2, -6.2],
    1.60: [3.8, 3.0, 1.7, 0.3, -0.9, -2.0, -2.9, -3.8, -4.7, -5.6, -6.6],
    1.65: [4.5, 3.4, 2.3, 1.0, -0.3, -1.4, -2.4, -3.3, -4.2, -5.1, -6.0],
    1.70: [5.0, 3.9, 2.8, 1.6, 0.3, -0.9, -1.9, -2.8, -3.7, -4.6, -5.5],
    1.75: [4.4, 3.3, 2.1, 0.9, -0.3, -1.4, -2.4, -3.3, -4.2, -5.1],
    1.80: [5.0, 3.8, 2.6, 1.4, 0.2, -0.9, -1.9, -2.8, -3.7, -4.6, -5.5],
    1.85: [4.2, 3.0, 1.8, 0.6, -0.5, -1.5, -2.5, -3.4, -4.3],
    1.90: [3.4, 2.2, 1.0, -0.1, -1.2, -2.2, -3.2, -4.1],
    1.95: [2.6, 1.3, 0.1, -1.0, -2.0, -3.0],
}
Zn_mid = {
    1.225: [-1.9, -3.7, -4.6, -6.4],
    1.275: [-2.3, -3.2, -5.0],
    1.325: [-0.4, -2.7, -3.6, -5.5],
    1.375: [-0.8, -1.9, -3.8, -4.8],
    1.425: [1.1, -1.4, -2.4, -4.2, -5.2],
    1.475: [0.5, -0.8, -2.8, -3.7, -5.6],
    1.525: [2.7, -0.1, -1.3, -3.2, -4.1, -6.0],
    1.575: [2.0, 0.6, -1.7, -2.7, -4.5, -5.4],
    1.625: [4.1, 1.4, 0.0, -2.2, -3.1, -4.9],
    1.675: [3.1, 2.0, -0.6, -1.6, -3.5, -4.4],
    1.725: [4.7, 2.4, 1.2, -1.1, -2.1, -3.9],
    1.775: [3.0, 1.8, -0.6, -1.7, -3.5, -4.4],
    1.825: [4.6, 2.2, 1.0, -1.2, -2.2, -4.0],
    1.875: [3.8, 1.4, 0.3, -1.8, -2.8],
    1.925: [1.7, 0.5, -1.6],
}
Zn_core = {
    1.46: [-1.2, -3.1, -4.9],
    1.51: [-1.6, -3.5, -5.3],
    1.56: [-0.9, -2.9, -4.8],
    1.61: [-1.5, -3.3, -5.2],
    1.66: [-0.8, -2.8, -4.6],
    1.71: [-1.4, -3.2, -5.0],
    1.76: [-0.8, -2.8, -4.6],
    1.81: [-1.4, -3.2, -5.0],
    1.86: [-0.9, -2.9],
    1.91: [-1.6, -3.6],
}
Zn_fit_x = [0.68, 2.31]
Zn_fit_y = [-5.6, 1.56]
Zn_stats = ["n = 425", "$r$ = 0.31", "$P$ < 0.001"]

# ---------------- figure ----------------
W, H = 1675, 898
fig = plt.figure(figsize=(W / 100, H / 100), dpi=100)

XLAB = "Leaf {} (mg kg$^{{\\text{{-1}}}}$)"
panels = [
    dict(box=(147, 15, 603, 327), xlim=(2.25, 5.25), pts=K_pts, cloud=[K_cloud, K_mid, K_core], fx=K_fit_x,
         fy=K_fit_y, tag="(a)", tagpos=(0.05, 0.894), stats=K_stats, sx=0.05, sy=[0.786, 0.669, 0.546],
         xlabel=XLAB.format("K"), ylab=True),
    dict(box=(670, 15, 1120, 327), xlim=(2.5, 5.0), pts=Ca_pts, cloud=[Ca_cloud, Ca_mid, Ca_core], fx=Ca_fit_x,
         fy=Ca_fit_y, tag="(b)", tagpos=(0.048, 0.882), stats=Ca_stats, sx=0.048, sy=[0.786, 0.669, 0.546],
         xlabel=XLAB.format("Ca"), ylab=False),
    dict(box=(1197, 15, 1650, 327), xlim=(2.0, 4.75), pts=Mg_pts, cloud=[Mg_cloud, Mg_mid, Mg_core], fx=Mg_fit_x,
         fy=Mg_fit_y, tag="(c)", tagpos=(0.042, 0.882), stats=Mg_stats, sx=0.04, sy=[0.79, 0.669, 0.546],
         xlabel=XLAB.format("Mg"), ylab=False),
    dict(box=(147, 465, 603, 778), xlim=(1.25, 4.5), pts=Fe_pts, cloud=[Fe_cloud, Fe_mid, Fe_core], fx=Fe_fit_x,
         fy=Fe_fit_y, tag="(d)", tagpos=(0.05, 0.879), stats=Fe_stats, sx=0.668, sy=[0.773, 0.643, 0.521],
         xlabel=XLAB.format("Fe"), ylab=True),
    dict(box=(672, 465, 1123, 778), xlim=(0.75, 4.0), pts=Mn_pts, cloud=[Mn_cloud, Mn_mid, Mn_core], fx=Mn_fit_x,
         fy=Mn_fit_y, tag="(e)", tagpos=(0.047, 0.88), stats=Mn_stats, sx=0.70, sy=[0.755, 0.638, 0.521],
         xlabel=XLAB.format("Mn"), ylab=False),
    dict(box=(1197, 465, 1650, 778), xlim=(0.25, 2.5), pts=Zn_pts, cloud=[Zn_cloud, Zn_mid, Zn_core], fx=Zn_fit_x,
         fy=Zn_fit_y, tag="(f)", tagpos=(0.043, 0.883), stats=Zn_stats, sx=0.025, sy=[0.771, 0.649, 0.527],
         xlabel=XLAB.format("Zn"), ylab=False),
]

TEXT_SIZE = 22
LABEL_SIZE = 24
TICK_SIZE = 16
TICK_FONT = "DejaVu Sans"
LW = 1.5

for p in panels:
    l, t, r, b = p["box"]
    ax = fig.add_axes([l / W, 1 - b / H, (r - l) / W, (b - t) / H])
    xs = [q[0] for q in p["pts"]]
    ys = [q[1] for q in p["pts"]]
    for cl in p["cloud"]:
        for xv, col in cl.items():
            xs += [xv] * len(col)
            ys += list(col)
    ax.scatter(xs, ys, marker="s", s=42, c="black", linewidths=0, zorder=2)
    if p["fx"]:
        ax.plot(p["fx"], p["fy"], color="#dc1e1e", lw=2.0, zorder=3)

    x0, x1 = p["xlim"]
    ax.set_xlim(x0, x1)
    ax.set_ylim(-12.5, 12.5)
    ax.xaxis.set_major_locator(MultipleLocator(0.5))
    ax.xaxis.set_minor_locator(MultipleLocator(0.25))
    ax.yaxis.set_major_locator(MultipleLocator(5))
    ax.yaxis.set_minor_locator(MultipleLocator(2.5))
    ax.tick_params(which="both", direction="out", top=False, right=False, width=1.3,
                   labelsize=TICK_SIZE, labelfontfamily=TICK_FONT)
    ax.tick_params(which="major", length=10)
    ax.tick_params(which="minor", length=5)
    ax.tick_params(axis="x", which="major", pad=11)
    ax.tick_params(axis="y", which="major", pad=6)
    for s in ax.spines.values():
        s.set_linewidth(LW)

    # mirrored top axis (inward ticks, evenly spaced)
    sec = ax.secondary_xaxis("top", functions=(lambda v, a=x0, c=x1: (v - a) / (c - a) * 10.0,
                                               lambda u, a=x0, c=x1: a + u * (c - a) / 10.0))
    sec.xaxis.set_major_locator(FixedLocator([0, 2, 4, 6, 8, 10]))
    sec.xaxis.set_minor_locator(FixedLocator([1, 3, 5, 7, 9]))
    sec.xaxis.set_major_formatter(NullFormatter())
    sec.tick_params(which="both", direction="in", width=1.3, labeltop=False)
    sec.tick_params(which="major", length=10)
    sec.tick_params(which="minor", length=5)
    for s in sec.spines.values():
        s.set_linewidth(LW)

    secy = ax.secondary_yaxis("right")
    secy.yaxis.set_major_locator(MultipleLocator(5))
    secy.yaxis.set_minor_locator(MultipleLocator(2.5))
    secy.yaxis.set_major_formatter(NullFormatter())
    secy.tick_params(which="both", direction="in", width=1.3, labelright=False)
    secy.tick_params(which="major", length=10)
    secy.tick_params(which="minor", length=5)
    for s in secy.spines.values():
        s.set_linewidth(LW)

    ax.text(p["tagpos"][0], p["tagpos"][1], p["tag"], transform=ax.transAxes,
            ha="left", va="center", fontsize=TEXT_SIZE)
    for txt, yy in zip(p["stats"], p["sy"]):
        ax.text(p["sx"], yy, txt, transform=ax.transAxes, ha="left", va="center", fontsize=TEXT_SIZE)

    hpx = b - t
    wpx = r - l
    ax.text(0.5, -98.0 / hpx, p["xlabel"], transform=ax.transAxes, ha="center", va="center",
            fontsize=LABEL_SIZE)
    if p["ylab"]:
        ax.text(-107.0 / wpx, 0.5, "δ$^{15}$N$_{\\text{leaf-soil}}$ (‰)", transform=ax.transAxes,
                ha="center", va="center", rotation=90, fontsize=LABEL_SIZE)

fig.savefig("out.png", dpi=100)
